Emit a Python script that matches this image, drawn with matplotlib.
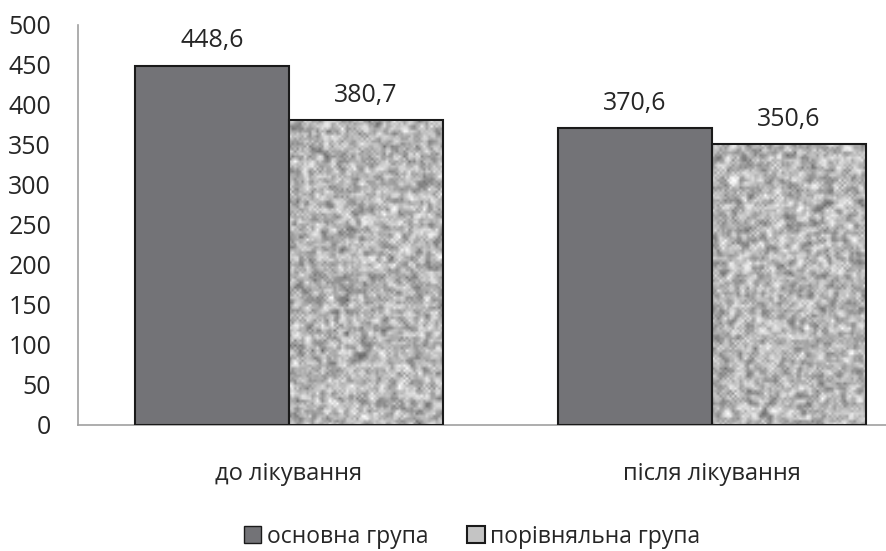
import numpy as np
import matplotlib.pyplot as plt
from matplotlib.patches import Patch

plt.rcParams['font.family'] = ['Open Sans', 'DejaVu Sans']

categories = ['до лікування', 'після лікування']
groups = ['основна група', 'порівняльна група']
main_vals = [448.6, 370.6]
comp_vals = [380.7, 350.6]

fig = plt.figure(figsize=(8.86, 5.51), dpi=100)
ax = fig.add_axes([0.0875, 0.229, 0.955, 0.726])

x = np.arange(len(categories))
w = 0.364

b1 = ax.bar(x - w / 2, main_vals, w, color='#737377', edgecolor='#1a1a1a', linewidth=1.5, zorder=3)
b2 = ax.bar(x + w / 2, comp_vals, w, color='none', edgecolor='#1a1a1a', linewidth=1.5, zorder=4)

# granite-like grey texture for the comparison bars
rng = np.random.default_rng(7)
def texture(h, wpx):
    t = rng.random((h, wpx))
    t = (t + np.roll(t, 1, 0) + np.roll(t, -1, 0) + np.roll(t, 1, 1) + np.roll(t, -1, 1)) / 5
    t = (t - t.mean()) / t.std()
    g = np.clip(0.71 + 0.1 * t, 0, 1)
    return np.dstack([g, g, g])

for bar in b2:
    x0 = bar.get_x()
    hpx = int(bar.get_height() * 0.8 / 2.5)
    img = texture(max(hpx, 10), 62)
    im = ax.imshow(img, extent=(x0, x0 + bar.get_width(), 0, bar.get_height()),
                   aspect='auto', interpolation='bilinear', zorder=2)
    im.set_clip_path(bar)

for bars, vals in ((b1, main_vals), (b2, comp_vals)):
    for bar, v in zip(bars, vals):
        ax.annotate(f'{v:.1f}'.replace('.', ','), (bar.get_x() + bar.get_width() / 2, v),
                    xytext=(0, 9), textcoords='offset points', ha='center', va='bottom',
                    fontsize=18, color='#262626')

ax.set_xlim(-0.5, 1.5)
ax.set_ylim(0, 500)
ax.set_yticks(range(0, 501, 50))
ax.set_xticks(x)
ax.set_xticklabels(categories)
ax.tick_params(axis='y', length=0, labelsize=18, colors='#262626', pad=19)
ax.tick_params(axis='x', length=0, labelsize=17, colors='#262626', pad=27)
for s in ('top', 'right'):
    ax.spines[s].set_visible(False)
for s in ('left', 'bottom'):
    ax.spines[s].set_color('#a0a0a0')
    ax.spines[s].set_linewidth(1.2)

handles = [Patch(facecolor='#737377', edgecolor='#1a1a1a', label=groups[0]),
           Patch(facecolor='#c4c4c4', edgecolor='#1a1a1a', linewidth=1.5, label=groups[1])]
fig.legend(handles=handles, loc='lower center', bbox_to_anchor=(0.533, -0.033), ncol=2, frameon=False,
           fontsize=16.5, handlelength=0.75, handleheight=0.75, handletextpad=0.25, columnspacing=1.7,
           labelcolor='#262626')

fig.savefig('out.png', dpi=100)
